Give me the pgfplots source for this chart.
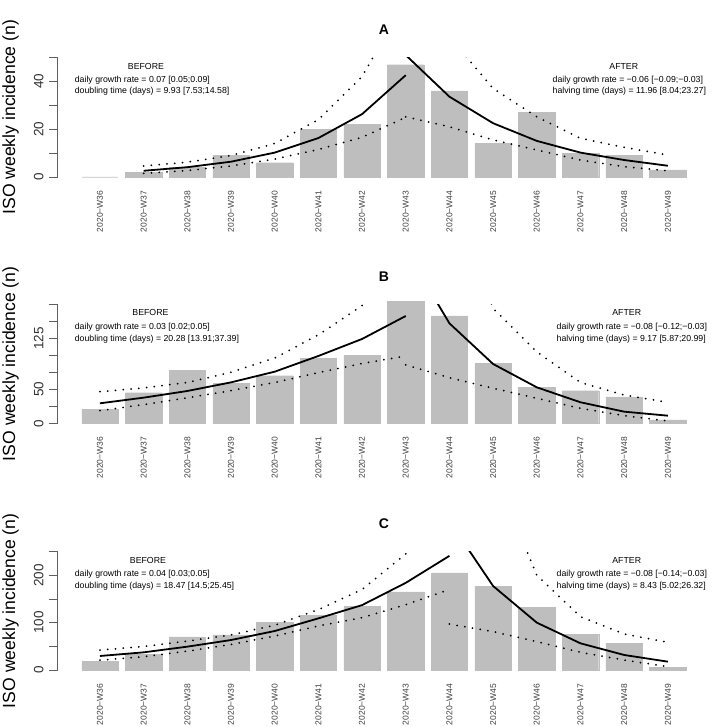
\documentclass[border=0pt]{standalone}
\usepackage{fontspec}
\setmainfont{Liberation Sans}
\usepackage{pgfplots}
\pgfplotsset{compat=1.18}
\definecolor{barc}{RGB}{190,190,190}
\definecolor{axc}{RGB}{95,95,95}
\newcommand{\anno}{\fontsize{8.75}{8.75}\selectfont}
\newcommand{\ytlf}{\fontsize{13.5}{13.5}\selectfont}
\newcommand{\xtlf}{\fontsize{8.5}{8.5}\selectfont}
\pgfplotsset{
  base/.style={scale only axis, width=652.6pt, xmin=-0.970, xmax=13.970, ymin=0, anchor=south west, hide axis},
  deco/.style={base, clip=false},
  lines/.style={base},
  fit/.style={black, line width=1.8pt, line join=round},
  ci/.style={black, line width=2pt, line cap=round, dash pattern=on 0pt off 7.8pt},
  bars/.style={ybar, bar width=0.8333, bar shift=0pt, fill=barc, draw=barc, line width=0.3pt},
}
\tikzset{
  ytl/.style={rotate=90, anchor=base, inner sep=0pt, font=\ytlf, text=black!80},
  ylab/.style={rotate=90, anchor=base, inner sep=0pt, font=\fontsize{17.6}{17.6}\selectfont},
  ttl/.style={inner sep=0pt, font=\bfseries\fontsize{14}{14}\selectfont},
  xtl/.style={rotate=90, anchor=east, inner sep=0pt, font=\xtlf, text=black!75},
  yax/.style={draw=axc, line width=0.9pt},
}
\begin{document}
\begin{tikzpicture}
\useasboundingbox (0,0) rectangle (712pt,727pt);
% ---------------- Panel A ----------------
\begin{axis}[deco, at={(57.6pt,550pt)}, height=119.5pt, ymax=50]
\addplot[bars] coordinates {(0,0) (1,2) (2,4) (3,9) (4,6) (5,20) (6,22) (7,47) (8,36) (9,14) (10,27) (11,10) (12,9) (13,3)};
\draw[yax] (axis cs:-0.970,0) -- (axis cs:-0.970,50);
\pgfplotsinvokeforeach{0,10,20,30,40,50}{\draw[yax] (axis cs:-0.970,#1) -- (axis cs:-1.176,#1);}
\pgfplotsinvokeforeach{0,...,13}{\node[xtl] at (axis cs:#1,-5.65) {2020−W\the\numexpr36+#1\relax};}
\node[ytl] at (axis cs:-1.297,0) {0};
\node[ytl] at (axis cs:-1.297,20) {20};
\node[ytl] at (axis cs:-1.297,40) {40};
\node[ylab] at (axis cs:-1.945,25) {ISO weekly incidence (n)};
\node[ttl] at (axis cs:6.5,61.5) {A};
\node[font=\anno, inner sep=0pt] at (axis cs:1.053,46.44) {BEFORE};
\node[font=\anno, inner sep=0pt, anchor=west] at (axis cs:-0.579,40.29) {daily growth rate = 0.07 [0.05;0.09]};
\node[font=\anno, inner sep=0pt, anchor=west] at (axis cs:-0.579,35.69) {doubling time (days) = 9.93 [7.53;14.58]};
\node[font=\anno, inner sep=0pt] at (axis cs:11.991,46.44) {AFTER};
\node[font=\anno, inner sep=0pt, anchor=west] at (axis cs:10.359,40.29) {daily growth rate = −0.06 [−0.09;−0.03]};
\node[font=\anno, inner sep=0pt, anchor=west] at (axis cs:10.359,35.69) {halving time (days) = 11.96 [8.04;23.27]};
\end{axis}
\begin{axis}[lines, at={(57.6pt,550pt)}, height=119.5pt, ymax=50]
\addplot[fit] coordinates {(1,2.6) (2,4.1) (3,6.4) (4,10.2) (5,16.3) (6,26.3) (7,42.6)};
\addplot[ci] coordinates {(1,4.6) (2,6.2) (3,9.0) (4,14.0) (5,24.0) (6,42.0) (7,74)};
\addplot[ci] coordinates {(1,1.5) (2,2.7) (3,4.6) (4,7.5) (5,11.5) (6,16.6) (7,25.0)};
\addplot[fit] coordinates {(7,51) (8,33.6) (9,22.5) (10,15.1) (11,10.2) (12,7.1) (13,4.7)};
\addplot[ci] coordinates {(7,103) (8,58.7) (9,37) (10,25.2) (11,16.2) (12,12.4) (13,9.2)};
\addplot[ci] coordinates {(7,25.2) (8,21) (9,15.5) (10,11.3) (11,7.1) (12,4.3) (13,2.6)};
\end{axis}
% ---------------- Panel B ----------------
\begin{axis}[deco, at={(57.6pt,303.7pt)}, height=119pt, ymax=175]
\addplot[bars] coordinates {(0,21) (1,45) (2,78) (3,59) (4,70) (5,96) (6,100) (7,179) (8,158) (9,88) (10,53) (11,48) (12,39) (13,5)};
\draw[yax] (axis cs:-0.970,0) -- (axis cs:-0.970,175);
\pgfplotsinvokeforeach{0,25,50,75,100,125,150,175}{\draw[yax] (axis cs:-0.970,#1) -- (axis cs:-1.176,#1);}
\pgfplotsinvokeforeach{0,...,13}{\node[xtl] at (axis cs:#1,-19.85) {2020−W\the\numexpr36+#1\relax};}
\node[ytl] at (axis cs:-1.297,0) {0};
\node[ytl] at (axis cs:-1.297,50) {50};
\node[ytl] at (axis cs:-1.297,125) {125};
\node[ylab] at (axis cs:-1.945,87.5) {ISO weekly incidence (n)};
\node[ttl] at (axis cs:6.5,215.6) {B};
\node[font=\anno, inner sep=0pt] at (axis cs:1.156,162.6) {BEFORE};
\node[font=\anno, inner sep=0pt, anchor=west] at (axis cs:-0.579,140.6) {daily growth rate = 0.03 [0.02;0.05]};
\node[font=\anno, inner sep=0pt, anchor=west] at (axis cs:-0.579,123.5) {doubling time (days) = 20.28 [13.91;37.39]};
\node[font=\anno, inner sep=0pt] at (axis cs:12.059,162.6) {AFTER};
\node[font=\anno, inner sep=0pt, anchor=west] at (axis cs:10.451,140.6) {daily growth rate = −0.08 [−0.12;−0.03]};
\node[font=\anno, inner sep=0pt, anchor=west] at (axis cs:10.451,123.5) {halving time (days) = 9.17 [5.87;20.99]};
\end{axis}
\begin{axis}[lines, at={(57.6pt,303.7pt)}, height=119pt, ymax=175]
\addplot[fit] coordinates {(0,29.4) (1,37.7) (2,47.5) (3,60.2) (4,75.9) (5,99) (6,124) (7,157.8)};
\addplot[ci] coordinates {(0,46.5) (1,52) (2,60) (3,75) (4,96) (5,130) (6,173) (7,250)};
\addplot[ci] coordinates {(0,18.6) (1,27.5) (2,37.5) (3,48) (4,60) (5,74.5) (6,88) (7,99)};
\addplot[fit] coordinates {(7,255) (8,147) (9,87.2) (10,52.9) (11,30.9) (12,17.1) (13,11.2)};
\addplot[ci] coordinates {(7,756) (8,338) (9,169) (10,105) (11,60) (12,41.6) (13,30.9)};
\addplot[ci] coordinates {(7,86) (8,67) (9,51.5) (10,36.8) (11,22) (12,11.2) (13,3.4)};
\end{axis}
% ---------------- Panel C ----------------
\begin{axis}[deco, at={(57.6pt,57pt)}, height=118.4pt, ymax=250]
\addplot[bars] coordinates {(0,18) (1,33) (2,70) (3,74) (4,100) (5,116) (6,134) (7,165) (8,205) (9,177) (10,132) (11,75) (12,57) (13,6)};
\draw[yax] (axis cs:-0.970,0) -- (axis cs:-0.970,250);
\pgfplotsinvokeforeach{0,50,100,150,200,250}{\draw[yax] (axis cs:-0.970,#1) -- (axis cs:-1.176,#1);}
\pgfplotsinvokeforeach{0,...,13}{\node[xtl] at (axis cs:#1,-28.5) {2020−W\the\numexpr36+#1\relax};}
\node[ytl] at (axis cs:-1.297,0) {0};
\node[ytl] at (axis cs:-1.297,100) {100};
\node[ytl] at (axis cs:-1.297,200) {200};
\node[ylab] at (axis cs:-1.945,125) {ISO weekly incidence (n)};
\node[ttl] at (axis cs:6.5,309.7) {C};
\node[font=\anno, inner sep=0pt] at (axis cs:1.098,232.2) {BEFORE};
\node[font=\anno, inner sep=0pt, anchor=west] at (axis cs:-0.579,202) {daily growth rate = 0.04 [0.03;0.05]};
\node[font=\anno, inner sep=0pt, anchor=west] at (axis cs:-0.579,177.3) {doubling time (days) = 18.47 [14.5;25.45]};
\node[font=\anno, inner sep=0pt] at (axis cs:12.059,232.2) {AFTER};
\node[font=\anno, inner sep=0pt, anchor=west] at (axis cs:10.451,202) {daily growth rate = −0.08 [−0.14;−0.03]};
\node[font=\anno, inner sep=0pt, anchor=west] at (axis cs:10.451,177.3) {halving time (days) = 8.43 [5.02;26.32]};
\end{axis}
\begin{axis}[lines, at={(57.6pt,57pt)}, height=118.4pt, ymax=250]
\addplot[fit] coordinates {(0,29.6) (1,37.3) (2,49.3) (3,63.3) (4,82.3) (5,109) (6,137) (7,184) (8,241)};
\addplot[ci] coordinates {(0,42) (1,49.6) (2,61) (3,74) (4,94.6) (5,127.5) (6,170) (7,245) (8,342)};
\addplot[ci] coordinates {(0,20.8) (1,28) (2,39.8) (3,54) (4,71.6) (5,93) (6,110.5) (7,138) (8,170)};
\addplot[fit] coordinates {(8,314) (9,177.3) (10,100) (11,56.3) (12,31.7) (13,17.6)};
\addplot[ci] coordinates {(8,1016) (9,425) (10,200) (11,112.6) (12,76) (13,58.4)};
\addplot[ci] coordinates {(8,97) (9,81) (10,60) (11,37.3) (12,21) (13,7)};
\end{axis}
\end{tikzpicture}
\end{document}
